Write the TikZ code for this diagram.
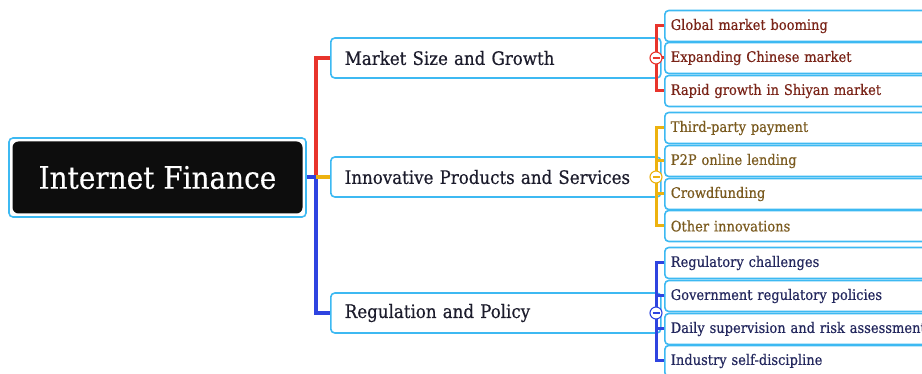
\documentclass[tikz,border=0pt]{standalone}
\usepackage{fontspec}
\setmainfont[FakeStretch=0.9,FakeBold=0.4]{DejaVu Serif}
\definecolor{frameblue}{HTML}{3DB9F2}
\definecolor{brred}{HTML}{E8342C}
\definecolor{bryellow}{HTML}{EDB20F}
\definecolor{brblue}{HTML}{2E44E0}
\definecolor{txred}{HTML}{7A2418}
\definecolor{txyellow}{HTML}{7A5A1E}
\definecolor{txblue}{HTML}{24285E}
\definecolor{txmain}{HTML}{1C1C2C}
\begin{document}
\begin{tikzpicture}[x=1pt,y=-1pt,
  rootbox/.style={draw=frameblue,line width=1.6pt,rounded corners=4pt,
    minimum width=297pt,minimum height=79pt,inner sep=0pt},
  rootfill/.style={fill=black!95,rounded corners=6pt,minimum width=290pt,
    minimum height=72pt,text=white,font=\fontsize{31}{36}\selectfont,inner sep=0pt},
  topicbox/.style={draw=frameblue,line width=1.6pt,rounded corners=4pt,fill=white,
    anchor=west,minimum height=40pt,text width=302pt,
    align=left,inner xsep=14pt,text=txmain,font=\fontsize{18.5}{22}\selectfont},
  leafbox/.style={draw=frameblue,line width=1.6pt,rounded corners=4pt,fill=white,
    anchor=west,minimum height=31pt,text width=290pt,
    align=left,inner xsep=6pt,font=\fontsize{14.5}{17}\selectfont},
  toggle/.style={circle,draw=#1,fill=white,line width=1.1pt,minimum size=12pt,
    inner sep=0pt,path picture={\draw[#1,line width=1.1pt]
      ([xshift=2.5pt]path picture bounding box.west) --
      ([xshift=-2.5pt]path picture bounding box.east);}},
  branch/.style={line width=3.2pt,#1},
  twig/.style={line width=3pt,#1}]
\useasboundingbox (0,0) rectangle (922,374);
\begin{scope}
\clip (0,0) rectangle (922,374);

% central topic
\node[rootbox] (rootframe) at (157.5,177.5) {};
\node[rootfill] (root) at (157.5,177.5) {Internet Finance};

% main topics
\node[topicbox] (t1) at (330,58) {Market Size and Growth};
\node[topicbox] (t2) at (330,177) {Innovative Products and Services};
\node[topicbox] (t3) at (330,313) {Regulation and Policy};

\coordinate (hub) at (316,177);
\draw[branch=brred] (hub) |- (t1.west);
\draw[branch=brblue] (rootframe.east |- hub) -- (hub) |- (t3.west);
\draw[branch=bryellow] (hub) -- (t2.west);

% market size subtopics
\node[leafbox,text=txred] (a1) at (664,26) {Global market booming};
\node[leafbox,text=txred] (a2) at (664,58) {Expanding Chinese market};
\node[leafbox,text=txred] (a3) at (664,91) {Rapid growth in Shiyan market};
\coordinate (sa) at (656,58);
\draw[twig=brred] (t1.east) -- (sa);
\draw[twig=brred] (a1.west) -| (sa) |- (a3.west);
\draw[twig=brred] (sa) -- (a2.west);
\node[toggle=brred] (ca) at (sa) {};

% innovation subtopics
\node[leafbox,text=txyellow] (b1) at (664,128) {Third-party payment};
\node[leafbox,text=txyellow] (b2) at (664,161) {P2P online lending};
\node[leafbox,text=txyellow] (b3) at (664,194) {Crowdfunding};
\node[leafbox,text=txyellow] (b4) at (664,226) {Other innovations};
\coordinate (sb) at (656,177);
\draw[twig=bryellow] (t2.east) -- (sb);
\draw[twig=bryellow] (b1.west) -| (sb) |- (b4.west);
\draw[twig=bryellow] (b2.west) -| (sb);
\draw[twig=bryellow] (b3.west) -| (sb);
\node[toggle=bryellow] (cb) at (sb) {};

% regulation subtopics
\node[leafbox,text=txblue] (d1) at (664,263) {Regulatory challenges};
\node[leafbox,text=txblue] (d2) at (664,296) {Government regulatory policies};
\node[leafbox,text=txblue] (d3) at (664,329) {Daily supervision and risk assessment};
\node[leafbox,text=txblue] (d4) at (664,361) {Industry self-discipline};
\coordinate (sd) at (656,313);
\draw[twig=brblue] (t3.east) -- (sd);
\draw[twig=brblue] (d1.west) -| (sd) |- (d4.west);
\draw[twig=brblue] (d2.west) -| (sd);
\draw[twig=brblue] (d3.west) -| (sd);
\node[toggle=brblue] (cd) at (sd) {};
\end{scope}
\end{tikzpicture}
\end{document}
